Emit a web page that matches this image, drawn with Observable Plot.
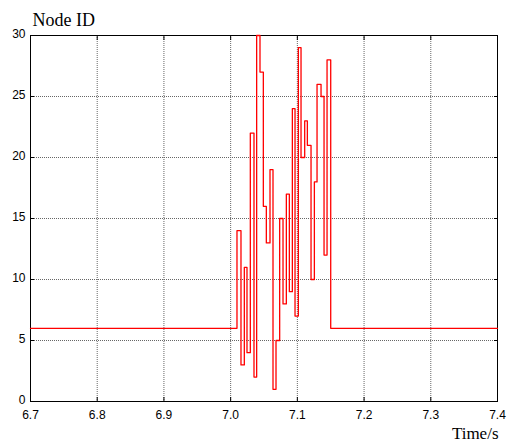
<!DOCTYPE html>
<html>
<head>
<meta charset="utf-8">
<script src="https://cdn.jsdelivr.net/npm/d3@7"></script>
<script src="https://cdn.jsdelivr.net/npm/@observablehq/plot@0.6"></script>
<style>
  html, body { margin: 0; padding: 0; background: #fff; }
  #chart svg { display: block; }
</style>
</head>
<body>
<div id="chart"></div>
<script>
// Step-signal change times (s) and node IDs held from each time onward
const times = [6.7, 7.0095, 7.0155, 7.0205, 7.0245, 7.0295, 7.035, 7.039, 7.044, 7.049,
  7.0535, 7.059, 7.0635, 7.068, 7.0735, 7.0785, 7.0835, 7.088, 7.0925, 7.0965,
  7.1015, 7.1055, 7.111, 7.115, 7.1205, 7.1255, 7.1295, 7.1355, 7.14, 7.1445,
  7.15, 7.4];
const nodeIds = [6, 14, 3, 11, 4, 22, 2, 30, 27, 16,
  13, 19, 1, 5, 15, 8, 17, 9, 24, 7,
  29, 20, 23, 21, 10, 18, 26, 25, 12, 28,
  6, 6];
const xTicks = [6.7, 6.8, 6.9, 7.0, 7.1, 7.2, 7.3, 7.4];
const yTicks = [0, 5, 10, 15, 20, 25, 30];
const titleText = "Node ID";
const xLabelText = "Time/s";

const data = times.map((t, i) => ({t, id: nodeIds[i]}));
const fmtX = d => d3.format(".1f")(d);
const fmtY = d => String(d);

const chart = Plot.plot({
  width: 507,
  height: 441,
  marginLeft: 30,
  marginRight: 10,
  marginTop: 35,
  marginBottom: 40,
  style: {fontFamily: "'Liberation Sans', Arial, sans-serif", fontSize: "12px", color: "#000", background: "#fff"},
  x: {domain: [6.7, 7.4], ticks: xTicks, tickFormat: fmtX, label: null},
  y: {domain: [0, 30], ticks: yTicks, tickFormat: fmtY, label: null},
  marks: [
    Plot.gridX(xTicks, {stroke: "#666", strokeOpacity: 1, strokeWidth: 1, strokeDasharray: "1,1"}),
    Plot.gridY(yTicks, {stroke: "#666", strokeOpacity: 1, strokeWidth: 1, strokeDasharray: "1,1"}),
    Plot.axisX(xTicks, {anchor: "bottom", tickSize: 0, tickPadding: 9, tickFormat: fmtX, label: null, fontSize: 12}),
    Plot.axisX(xTicks, {anchor: "bottom", tickSize: -4, text: null, label: null}),
    Plot.axisX(xTicks, {anchor: "top", tickSize: -4, text: null, label: null}),
    Plot.axisY(yTicks, {anchor: "left", tickSize: 0, tickPadding: 5, tickFormat: fmtY, label: null, fontSize: 12, dy: -1}),
    Plot.axisY(yTicks, {anchor: "left", tickSize: -4, text: null, label: null}),
    Plot.axisY(yTicks, {anchor: "right", tickSize: -4, text: null, label: null}),
    Plot.frame({stroke: "#000", strokeWidth: 1}),
    Plot.line(data, {x: "t", y: "id", curve: "step-after", stroke: "#ff0000", strokeWidth: 1.3}),
    Plot.text([titleText], {frameAnchor: "top-left", dx: 2, dy: -10, text: d => d, textAnchor: "start", lineAnchor: "bottom",
      fontFamily: "'Liberation Serif', 'Times New Roman', serif", fontSize: 18}),
    Plot.text([xLabelText], {frameAnchor: "bottom-right", dx: 1, dy: 37, text: d => d, textAnchor: "end", lineAnchor: "bottom",
      fontFamily: "'Liberation Serif', 'Times New Roman', serif", fontSize: 17})
  ]
});
document.getElementById("chart").appendChild(chart);
</script>
</body>
</html>
